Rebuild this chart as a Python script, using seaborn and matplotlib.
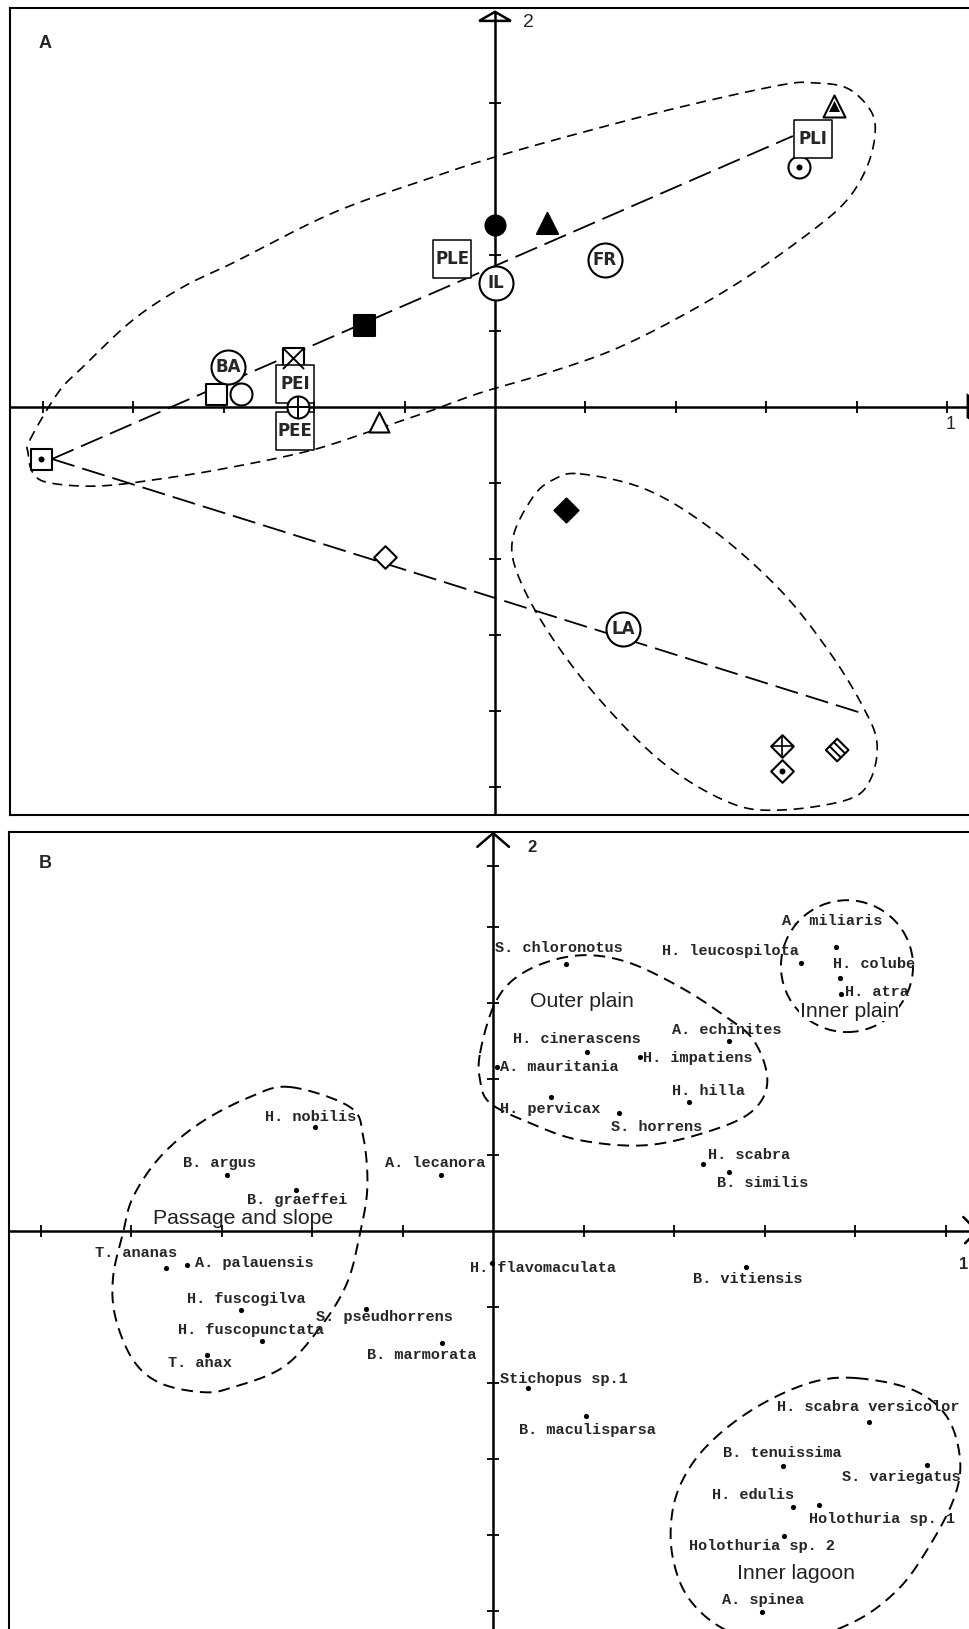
import numpy as np
import matplotlib
matplotlib.use("Agg")
import matplotlib.pyplot as plt
from matplotlib.patches import Ellipse, Polygon
import seaborn as sns

sns.set_style("white")
plt.rcParams["font.family"] = ["Liberation Sans", "DejaVu Sans"]
plt.rcParams["hatch.linewidth"] = 1.4

# ---------------- Panel A : stations and habitat factors ----------------
box_labels = ["PLI", "PLE", "PEI", "PEE"]
box_x = [0.704, -0.095, -0.442, -0.442]
box_y = [0.705, 0.389, 0.061, -0.063]

ring_labels = ["IL", "FR", "BA", "LA"]
ring_x = [0.002, 0.243, -0.591, 0.283]
ring_y = [0.326, 0.387, 0.105, -0.584]

sym_kind = ["filled_circle", "filled_triangle", "filled_square", "filled_diamond",
            "open_square", "open_circle", "open_triangle", "open_diamond",
            "crossed_square", "crossed_circle", "dotted_square", "dotted_circle",
            "dotted_triangle", "crossed_diamond", "dotted_diamond", "hatched_diamond"]
sym_x = [0.000, 0.115, -0.290, 0.157, -0.617, -0.562, -0.257, -0.243,
         -0.447, -0.436, -1.004, 0.673, 0.750, 0.635, 0.635, 0.757]
sym_y = [0.479, 0.484, 0.216, -0.271, 0.034, 0.034, -0.039, -0.395,
         0.129, 0.000, -0.137, 0.632, 0.792, -0.892, -0.958, -0.903]

# two gradients sharing one origin
grad_origin_x = -0.980
grad_origin_y = -0.137
grad_end_x = [0.659, 0.825]
grad_end_y = [0.713, -0.811]

# hand-drawn group outlines (axis units)
reef_outline_x = [-1.029, -0.967, -0.912, -0.801, -0.690, -0.580, -0.358, -0.137, 0.000,
                  0.188, 0.409, 0.631, 0.704, 0.779, 0.830, 0.841, 0.823, 0.779, 0.704,
                  0.558, 0.409, 0.261, 0.115, -0.033, -0.137, -0.254, -0.403, -0.580,
                  -0.726, -0.874, -0.985, -1.022, -1.033]
reef_outline_y = [-0.087, 0.037, 0.105, 0.229, 0.316, 0.379, 0.511, 0.605, 0.658,
                  0.721, 0.789, 0.847, 0.853, 0.839, 0.782, 0.721, 0.632, 0.545, 0.466,
                  0.342, 0.237, 0.150, 0.089, 0.037, -0.008, -0.055, -0.113, -0.158,
                  -0.187, -0.208, -0.200, -0.174, -0.121]
lagoon_outline_x = [0.188, 0.336, 0.482, 0.631, 0.741, 0.814, 0.845, 0.830, 0.779,
                    0.631, 0.520, 0.372, 0.226, 0.115, 0.049, 0.040, 0.084, 0.128]
lagoon_outline_y = [-0.176, -0.218, -0.324, -0.482, -0.647, -0.789, -0.884, -0.982, -1.034,
                    -1.061, -1.042, -0.937, -0.763, -0.587, -0.437, -0.342, -0.237, -0.192]

a_xticks = [-1.0, -0.8, -0.6, -0.4, -0.2, 0.2, 0.4, 0.6, 0.8, 1.0]
a_yticks = [0.2, 0.4, 0.8, -0.2, -0.4, -0.6, -0.8, -1.0]

# ---------------- Panel B : holothurian species ----------------
species = ["S. chloronotus", "H. leucospilota", "A. miliaris", "H. colube", "H. atra",
           "H. cinerascens", "A. echinites", "A. mauritania", "H. impatiens", "H. hilla",
           "H. pervicax", "S. horrens", "H. scabra", "B. similis", "H. nobilis",
           "B. argus", "B. graeffei", "A. lecanora", "T. ananas", "A. palauensis",
           "H. fuscogilva", "H. fuscopunctata", "T. anax", "S. pseudhorrens", "B. marmorata",
           "H. flavomaculata", "B. vitiensis", "Stichopus sp.1", "B. maculisparsa",
           "H. scabra versicolor", "B. tenuissima", "S. variegatus", "H. edulis",
           "Holothuria sp. 1", "Holothuria sp. 2", "A. spinea"]
sp_x = [0.161, 0.681, 0.758, 0.767, 0.769,
        0.208, 0.522, 0.009, 0.325, 0.433,
        0.128, 0.278, 0.464, 0.522, -0.393,
        -0.588, -0.435, -0.115, -0.723, -0.676,
        -0.557, -0.511, -0.632, -0.281, -0.113,
        -0.002, 0.559, 0.077, 0.206,
        0.831, 0.641, 0.959, 0.663,
        0.720, 0.643, 0.594]
sp_y = [0.703, 0.705, 0.747, 0.666, 0.624,
        0.471, 0.500, 0.432, 0.458, 0.339,
        0.353, 0.311, 0.176, 0.155, 0.274,
        0.147, 0.108, 0.147, -0.097, -0.089,
        -0.208, -0.289, -0.326, -0.205, -0.295,
        -0.084, -0.095, -0.413, -0.487,
        -0.503, -0.618, -0.616, -0.726,
        -0.721, -0.803, -1.003]
# label offsets from each point, in pixels (right, up)
label_dx = [-71, -139, -54, -7, 4, -74, -57, 3, 3, -17, -51, -8, 5, -12, -50,
            -44, -49, -56, -71, 8, -54, -84, -39, -50, -75, -22, -53, -28, -67,
            -92, -60, -85, -81, -10, -95, -40]
label_dy = [16, 12, 26, 14, 2, 13, 11, 0, -1, 11, -12, -14, 9, -11, 10,
            12, -10, 12, 15, 2, 11, 11, -8, -8, -12, -5, -12, 9, -14,
            15, 13, -12, 12, -14, -10, 12]

region_names = ["Outer plain", "Inner plain", "Passage and slope", "Inner lagoon"]
region_x = [0.197, 0.787, -0.552, 0.670]
region_y = [0.603, 0.579, 0.032, -0.900]

passage_outline_x = [-0.449, -0.316, -0.287, -0.278, -0.294, -0.323, -0.382, -0.464, -0.575,
                     -0.641, -0.736, -0.796, -0.835, -0.840, -0.818, -0.796, -0.736, -0.648, -0.537]
passage_outline_y = [0.379, 0.326, 0.247, 0.116, -0.005, -0.137, -0.253, -0.358, -0.411,
                     -0.424, -0.400, -0.339, -0.226, -0.121, -0.005, 0.089, 0.195, 0.284, 0.353]
outer_outline_x = [-0.029, 0.000, 0.044, 0.119, 0.208, 0.303, 0.413, 0.502, 0.575,
                   0.606, 0.575, 0.486, 0.340, 0.192, 0.082, -0.007, -0.029]
outer_outline_y = [0.468, 0.589, 0.661, 0.708, 0.726, 0.705, 0.642, 0.574, 0.503,
                   0.397, 0.318, 0.266, 0.226, 0.239, 0.284, 0.337, 0.397]
inner_lagoon_outline_x = [0.804, 0.928, 1.003, 1.032, 1.017, 0.959, 0.893, 0.796, 0.656,
                          0.524, 0.435, 0.396, 0.398, 0.435, 0.502, 0.597, 0.707]
inner_lagoon_outline_y = [-0.387, -0.418, -0.489, -0.603, -0.708, -0.839, -0.945, -1.029, -1.082,
                          -1.055, -0.971, -0.853, -0.726, -0.621, -0.532, -0.453, -0.397]
inner_plain_center = (0.782, 0.697)
inner_plain_width = 0.292
inner_plain_height = 0.347

b_xticks = [-1.0, -0.8, -0.6, -0.4, -0.2, 0.2, 0.4, 0.6, 0.8, 1.0]
b_yticks = [0.2, 0.4, 0.6, 0.8, 0.96, -0.2, -0.4, -0.6, -0.8, -1.0]


def closed_spline(xs, ys, n=24):
    """Closed Catmull-Rom curve through the given vertices."""
    P = np.column_stack([xs, ys])
    m = len(P)
    t = np.linspace(0, 1, n, endpoint=False)[:, None]
    segs = []
    for i in range(m):
        p0, p1, p2, p3 = P[i - 1], P[i], P[(i + 1) % m], P[(i + 2) % m]
        segs.append(0.5 * (2 * p1 + (-p0 + p2) * t + (2 * p0 - 5 * p1 + 4 * p2 - p3) * t ** 2
                           + (-p0 + 3 * p1 - 3 * p2 + p3) * t ** 3))
    c = np.vstack(segs)
    c = np.vstack([c, c[:1]])
    return c[:, 0], c[:, 1]


def pt2(px):
    return (px * 0.72) ** 2


def shapes(ax, xs, ys, marker, px, face, lw=1.5, z=4, **kw):
    sns.scatterplot(x=xs, y=ys, ax=ax, marker=marker, s=pt2(px), facecolor=face,
                    edgecolor="black", linewidth=lw, zorder=z, legend=False, **kw)


def strokes(ax, xs, ys, marker, px, lw=1.4, z=5):
    sns.scatterplot(x=xs, y=ys, ax=ax, marker=marker, s=pt2(px), color="black",
                    linewidth=lw, zorder=z, legend=False)


def pick(kind):
    idx = [i for i, k in enumerate(sym_kind) if k == kind]
    return [sym_x[i] for i in idx], [sym_y[i] for i in idx]


def style_frame(ax):
    ax.set_xticks([])
    ax.set_yticks([])
    ax.set_xlabel("")
    ax.set_ylabel("")
    for sp in ax.spines.values():
        sp.set_visible(True)
        sp.set_color("black")
        sp.set_linewidth(1.5)


fig = plt.figure(figsize=(9.7, 16.29), dpi=100)
W, H = 970.0, 1629.0

# ================= Panel A =================
axA = fig.add_axes([10 / W, 1 - 815 / H, 975 / W, 807 / H])
axA.set_xlim(-1.073, 1.084)
axA.set_ylim(-1.074, 1.050)

axA.plot([-1.073, 1.084], [0, 0], color="black", lw=1.8, zorder=1.5)
axA.plot([0, 0], [-1.074, 1.040], color="black", lw=1.8, zorder=1.5)
axA.plot(a_xticks, np.zeros(len(a_xticks)), ls="none", marker="|", ms=9, mew=1.3,
         color="black", zorder=1.6)
axA.plot(np.zeros(len(a_yticks)), a_yticks, ls="none", marker="_", ms=9, mew=1.3,
         color="black", zorder=1.6)
axA.add_patch(Polygon([(-0.035, 1.016), (0, 1.040), (0.035, 1.016)], closed=True,
                      fc="none", ec="black", lw=1.8, zorder=3))
axA.add_patch(Polygon([(1.046, -0.03), (1.084, 0), (1.046, 0.03)], closed=True,
                      fc="none", ec="black", lw=1.8, zorder=3, clip_on=False))

# group outlines
for ox, oy in [(reef_outline_x, reef_outline_y), (lagoon_outline_x, lagoon_outline_y)]:
    cx, cy = closed_spline(ox, oy)
    axA.plot(cx, cy, color="black", lw=1.2, ls=(0, (6, 4)), zorder=2)

# gradients
for ex, ey in zip(grad_end_x, grad_end_y):
    axA.plot([grad_origin_x, ex], [grad_origin_y, ey], color="black", lw=1.3,
             ls=(0, (13, 4.5)), zorder=2)

# symbols
x, y = pick("filled_circle"); shapes(axA, x, y, "o", 20, "black")
x, y = pick("filled_triangle"); shapes(axA, x, y, "^", 21, "black")
x, y = pick("filled_square"); shapes(axA, x, y, "s", 21, "black")
x, y = pick("filled_diamond"); shapes(axA, x, y, "D", 17, "black")
x, y = pick("open_square"); shapes(axA, x, y, "s", 21, "white")
x, y = pick("open_circle"); shapes(axA, x, y, "o", 22, "white")
x, y = pick("open_triangle"); shapes(axA, x, y, "^", 20, "white")
x, y = pick("open_diamond"); shapes(axA, x, y, "D", 16, "white")
x, y = pick("crossed_square"); shapes(axA, x, y, "s", 21, "white"); strokes(axA, x, y, "x", 21)
x, y = pick("crossed_circle"); shapes(axA, x, y, "o", 22, "white", z=5.5); strokes(axA, x, y, "+", 22, z=5.6)
x, y = pick("dotted_square"); shapes(axA, x, y, "s", 21, "white"); shapes(axA, x, y, "o", 6, "black", lw=0, z=5)
x, y = pick("dotted_circle"); shapes(axA, x, y, "o", 22, "white"); shapes(axA, x, y, "o", 6, "black", lw=0, z=5)
x, y = pick("dotted_triangle"); shapes(axA, x, y, "^", 22, "white"); shapes(axA, x, y, "^", 11, "black", lw=0, z=5)
x, y = pick("crossed_diamond"); shapes(axA, x, y, "D", 16, "white"); strokes(axA, x, y, "+", 22, lw=1.2)
x, y = pick("dotted_diamond"); shapes(axA, x, y, "D", 16, "white"); shapes(axA, x, y, "o", 6, "black", lw=0, z=5)
x, y = pick("hatched_diamond"); shapes(axA, x, y, "D", 16, "white", hatch="\\\\\\\\")

# labelled stations
shapes(axA, box_x, box_y, "s", 38, "white", lw=1.1, z=4.5)
shapes(axA, ring_x, ring_y, "o", 34, "white", lw=1.5, z=4.5)
for lab, lx, ly in zip(box_labels + ring_labels, box_x + ring_x, box_y + ring_y):
    axA.text(lx, ly, lab, ha="center", va="center", fontsize=12, fontweight="bold",
             family=["DejaVu Sans"], zorder=7)

axA.text(0.062, 1.011, "2", ha="left", va="center", fontsize=14, zorder=7)
axA.text(1.007, -0.047, "1", ha="center", va="center", fontsize=13, zorder=7)
style_frame(axA)

# ================= Panel B =================
axB = fig.add_axes([9 / W, 1 - 1640 / H, 976 / W, 808 / H])
axB.set_xlim(-1.070, 1.087)
axB.set_ylim(-1.076, 1.050)

axB.plot([-1.070, 1.07], [0, 0], color="black", lw=1.8, zorder=1.5)
axB.plot([0, 0], [-1.076, 1.047], color="black", lw=1.8, zorder=1.5)
axB.plot(b_xticks, np.zeros(len(b_xticks)), ls="none", marker="|", ms=9, mew=1.3,
         color="black", zorder=1.6)
axB.plot(np.zeros(len(b_yticks)), b_yticks, ls="none", marker="_", ms=9, mew=1.3,
         color="black", zorder=1.6)
axB.plot([-0.035, 0, 0.035], [1.011, 1.047, 1.011], color="black", lw=1.8, zorder=3)
axB.plot([1.039, 1.07, 1.043], [0.037, 0, -0.032], color="black", lw=1.8, zorder=3,
         clip_on=False)

for ox, oy in [(passage_outline_x, passage_outline_y), (outer_outline_x, outer_outline_y),
               (inner_lagoon_outline_x, inner_lagoon_outline_y)]:
    cx, cy = closed_spline(ox, oy)
    axB.plot(cx, cy, color="black", lw=1.4, ls=(0, (6, 3.6)), zorder=2)
axB.add_patch(Ellipse(inner_plain_center, inner_plain_width, inner_plain_height,
                      fill=False, ec="black", lw=1.4, ls=(0, (6, 3.6)), zorder=2))

sns.scatterplot(x=sp_x, y=sp_y, ax=axB, s=14, color="black", linewidth=0, zorder=4,
                legend=False)
for name, px_, py_, dx, dy in zip(species, sp_x, sp_y, label_dx, label_dy):
    axB.annotate(name, (px_, py_), xytext=(dx, dy), textcoords="offset pixels",
                 ha="left", va="center", fontsize=11, fontweight="bold",
                 family=["Liberation Mono", "DejaVu Sans Mono"], zorder=5)

for name, rx, ry in zip(region_names, region_x, region_y):
    boxed = name in ("Inner plain", "Outer plain")
    axB.text(rx, ry, name, ha="center", va="center", fontsize=15.3, color="#222222",
             zorder=6,
             bbox=dict(fc="white", ec="none", pad=0.5) if boxed else None)

axB.text(0.075, 1.008, "2", ha="left", va="center", fontsize=12, fontweight="bold", zorder=7)
axB.text(1.039, -0.089, "1", ha="center", va="center", fontsize=12, fontweight="bold",
         zorder=7, clip_on=False)
style_frame(axB)

fig.text(45 / W, 1 - 43 / H, "A", ha="center", va="center", fontsize=13, fontweight="bold")
fig.text(45 / W, 1 - 863 / H, "B", ha="center", va="center", fontsize=13, fontweight="bold")

fig.savefig("out.png", dpi=100)
